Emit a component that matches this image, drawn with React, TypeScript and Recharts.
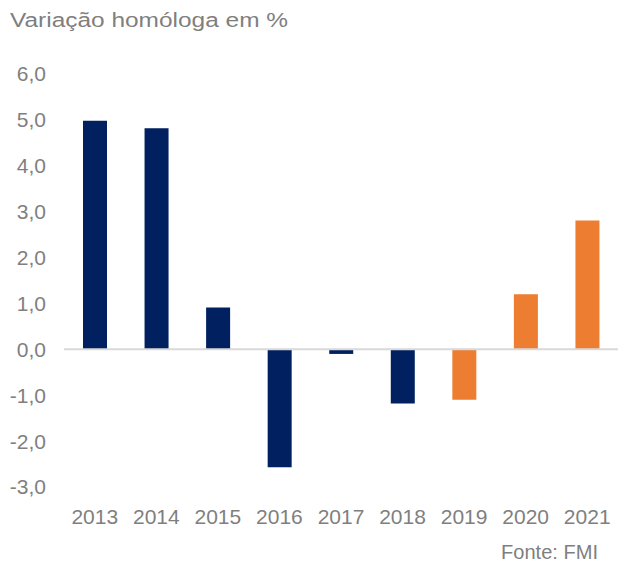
import React from 'react';
import { BarChart, Bar, Cell, XAxis, YAxis, ReferenceLine } from 'recharts';

const years = ['2013', '2014', '2015', '2016', '2017', '2018', '2019', '2020', '2021'];
const growth = [4.98, 4.82, 0.91, -2.57, -0.1, -1.18, -1.1, 1.2, 2.81];
const projected = [false, false, false, false, false, false, true, true, true];
const yTicks = [-3, -2, -1, 0, 1, 2, 3, 4, 5, 6];

const NAVY = '#002060';
const ORANGE = '#ED7D31';
const GREY = '#7f7f7f';
const FONT = '"Liberation Sans", Arial, Helvetica, sans-serif';

const data = years.map((year, i) => ({ year, value: growth[i], projected: projected[i] }));

const fmt = (v: number) => v.toFixed(1).replace('.', ',');

export default function App() {
  return (
    <div style={{ position: 'absolute', left: 0, top: 0, width: 618, height: 562, background: '#fff', fontFamily: FONT }}>
      <BarChart
        width={618}
        height={562}
        data={data}
        margin={{ top: 74, right: 0, bottom: 35, left: 0 }}
        barCategoryGap="30%"
      >
        <XAxis
          dataKey="year"
          axisLine={false}
          tickLine={false}
          tickSize={0}
          tickMargin={22}
          height={40}
          interval={0}
          tick={{ fill: GREY, fontSize: 21, fontFamily: FONT }}
        />
        <YAxis
          domain={[-3, 6]}
          ticks={yTicks}
          axisLine={false}
          tickLine={false}
          tickSize={0}
          tickMargin={18}
          width={64}
          interval={0}
          tickFormatter={fmt}
          tick={{ fill: GREY, fontSize: 21, fontFamily: FONT }}
        />
        <ReferenceLine y={0} stroke="#d9d9d9" strokeWidth={2} />
        <Bar dataKey="value" barSize={24} isAnimationActive={false}>
          {data.map((d, i) => (
            <Cell key={`c-${i}`} fill={d.projected ? ORANGE : NAVY} />
          ))}
        </Bar>
      </BarChart>
      <svg width={618} height={562} style={{ position: 'absolute', left: 0, top: 0, pointerEvents: 'none' }}>
        <text x={10} y={27} fill={GREY} fontSize={20} fontFamily={FONT} textLength={278} lengthAdjust="spacingAndGlyphs">
          Variação homóloga em %
        </text>
        <text x={501} y={559} fill={GREY} fontSize={21} fontFamily={FONT} textLength={97} lengthAdjust="spacingAndGlyphs">
          Fonte: FMI
        </text>
      </svg>
    </div>
  );
}
